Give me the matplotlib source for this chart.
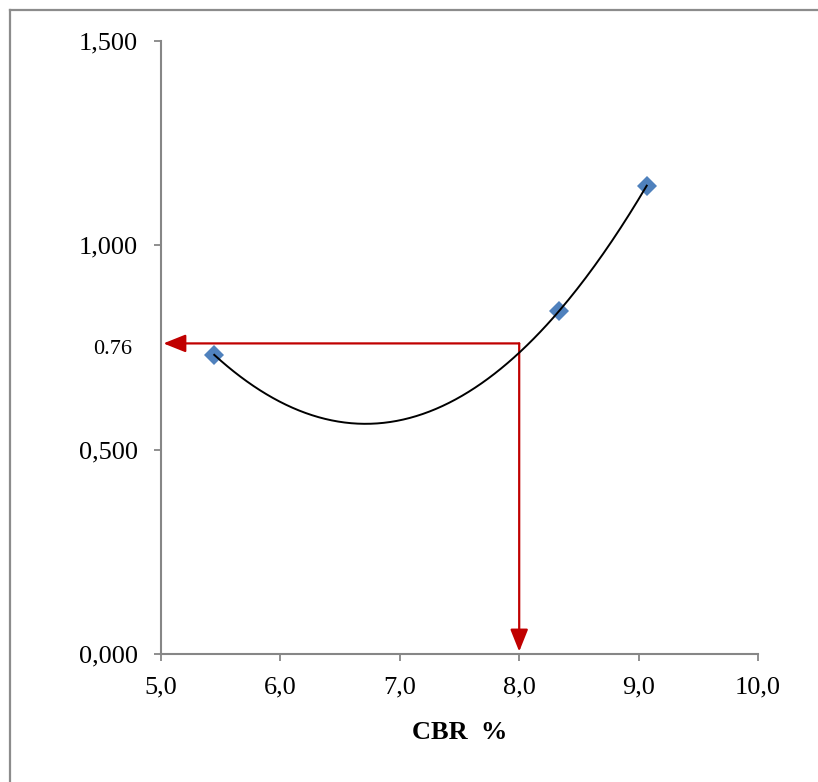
import matplotlib
matplotlib.use("Agg")
import matplotlib.pyplot as plt
from matplotlib.lines import Line2D
from matplotlib.ticker import FuncFormatter
import matplotlib.transforms as mtransforms
import numpy as np

# data
cbr = [5.446, 8.336, 9.068]
value = [0.732, 0.840, 1.146]
read_cbr = 8.0
read_value = 0.76
read_label = "0.76"
x_ticks = [5.0, 6.0, 7.0, 8.0, 9.0, 10.0]
y_ticks = [0.0, 0.5, 1.0, 1.5]

GRAY = "#868686"
RED = "#C00000"
BLUE = "#4F81BD"


def main():
    plt.rcParams["font.family"] = ["Liberation Serif", "DejaVu Serif"]
    fig = plt.figure(figsize=(8.18, 7.82), dpi=100, facecolor="w")
    ax = fig.add_axes([161 / 818, 128 / 782, 597 / 818, 613 / 782])

    # quadratic trendline through the points
    coef = np.polyfit(cbr, value, 2)
    xs = np.linspace(min(cbr), max(cbr), 200)
    ax.plot(cbr, value, linestyle="none", marker="D", markersize=10.5,
            color=BLUE, markeredgewidth=0, zorder=3)
    ax.plot(xs, np.polyval(coef, xs), color="black", lw=1.4, zorder=4)

    # reading arrows
    arrow = dict(arrowstyle="-|>,head_length=0.8,head_width=0.32",
                 color=RED, lw=1.6, shrinkA=0, shrinkB=0, mutation_scale=17)
    ax.annotate("", xy=(5.02, read_value), xytext=(read_cbr, read_value),
                arrowprops=arrow, zorder=2)
    ax.annotate("", xy=(read_cbr, 0.006), xytext=(read_cbr, read_value),
                arrowprops=arrow, zorder=2)

    trans = mtransforms.blended_transform_factory(ax.transAxes, ax.transData)
    ax.text(-0.048, read_value - 0.016, read_label, transform=trans,
            ha="right", va="center", fontsize=16)

    ax.set_xlim(5.0, 10.0)
    ax.set_ylim(0.0, 1.5)
    ax.set_xticks(x_ticks)
    ax.set_yticks(y_ticks)
    ax.xaxis.set_major_formatter(FuncFormatter(lambda v, p: "{:.1f}".format(v).replace(".", ",")))
    ax.yaxis.set_major_formatter(FuncFormatter(lambda v, p: "{:.3f}".format(v).replace(".", ",")))
    ax.tick_params(axis="both", direction="out", length=5, width=1.3,
                   color=GRAY, labelsize=19)
    ax.tick_params(axis="y", pad=11.5)
    ax.tick_params(axis="x", pad=11)
    for s in ["top", "right"]:
        ax.spines[s].set_visible(False)
    for s in ["left", "bottom"]:
        ax.spines[s].set_color(GRAY)
        ax.spines[s].set_linewidth(1.5)

    ax.set_xlabel("CBR  %", fontsize=19, fontweight="bold")
    ax.xaxis.set_label_coords(0.5, -0.11)

    # outer frame (left and top edges only visible)
    fig.add_artist(Line2D([9.5 / 818, 9.5 / 818], [0, 1 - 9.5 / 782],
                          color="#8c8c8c", lw=1.6, transform=fig.transFigure))
    fig.add_artist(Line2D([9.5 / 818, 1], [1 - 9.5 / 782, 1 - 9.5 / 782],
                          color="#8c8c8c", lw=1.6, transform=fig.transFigure))

    fig.savefig("out.png", dpi=100, facecolor="w")


if __name__ == "__main__":
    main()
